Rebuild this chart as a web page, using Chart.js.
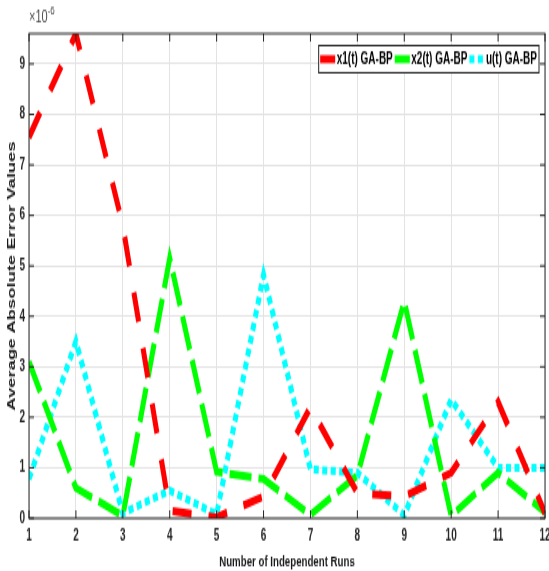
<!DOCTYPE html>
<html>
<head>
<meta charset="utf-8">
<title>Average Absolute Error Values</title>
<script src="https://cdn.jsdelivr.net/npm/chart.js@4.4.1/dist/chart.umd.min.js"></script>
<style>
  html, body { margin: 0; padding: 0; background: #fff; }
  #errChart { display: block; }
</style>
</head>
<body>
<!-- the figure is drawn short and stretched tall, like the exported plot -->
<canvas id="errChart" width="549" height="357" style="width:549px;height:571px"></canvas>
<script>
// independent runs and average absolute errors (values in units of 1e-6)
var runs = [1, 2, 3, 4, 5, 6, 7, 8, 9, 10, 11, 12];
var x1Err = [7.55, 9.6, 5.8, 0.15, 0.02, 0.43, 2.2, 0.5, 0.43, 0.9, 2.3, 0.1];
var x2Err = [3.1, 0.6, 0.05, 5.15, 0.92, 0.78, 0.07, 0.85, 4.3, 0.05, 0.9, 0.12];
var uErr = [0.78, 3.5, 0.1, 0.55, 0.08, 4.82, 0.97, 0.9, 0.06, 2.35, 1.0, 1.0];
var seriesNames = ['x1(t) GA-BP', 'x2(t) GA-BP', 'u(t) GA-BP'];
var yTicks = [0, 1, 2, 3, 4, 5, 6, 7, 8, 9];
var yTop = 9.6;

var FONT = "'Liberation Sans', Arial, sans-serif";
var AXIS = '#262626';

function toPoints(vals) {
    return runs.map(function(r, i) {
        return { x: r, y: vals[i] };
    });
}

// box round the axes, inward ticks, exponent label and the legend
var axesBox = {
    id: 'axesBox',
    afterDatasetsDraw: function(chart) {
        var ctx = chart.ctx;
        var a = chart.chartArea;
        var xs = chart.scales.x;
        var ys = chart.scales.y;

        ctx.save();
        ctx.strokeStyle = AXIS;
        ctx.lineWidth = 1;
        ctx.setLineDash([]);
        ctx.strokeRect(a.left, a.top, a.right - a.left, a.bottom - a.top);

        ctx.beginPath();
        runs.forEach(function(r) {
            var px = xs.getPixelForValue(r);
            ctx.moveTo(px, a.bottom); ctx.lineTo(px, a.bottom - 5);
            ctx.moveTo(px, a.top); ctx.lineTo(px, a.top + 5);
        });
        yTicks.forEach(function(v) {
            var py = ys.getPixelForValue(v);
            ctx.moveTo(a.left, py); ctx.lineTo(a.left + 5, py);
            ctx.moveTo(a.right, py); ctx.lineTo(a.right - 5, py);
        });
        ctx.stroke();

        // x10^-6 above the y axis
        ctx.fillStyle = '#4d4d4d';
        ctx.textAlign = 'left';
        ctx.textBaseline = 'alphabetic';
        ctx.font = '11px ' + FONT;
        ctx.fillText('\u00d710', a.left, a.top - 7);
        var w = ctx.measureText('\u00d710').width;
        ctx.font = '8px ' + FONT;
        ctx.fillText('-6', a.left + w, a.top - 12);
        ctx.restore();
    },
    afterDraw: function(chart) {
        var ctx = chart.ctx;
        var a = chart.chartArea;
        var sets = chart.data.datasets;

        ctx.save();
        ctx.font = 'bold 10px ' + FONT;
        var sample = 15;
        var total = 1.5;
        sets.forEach(function(ds) {
            total += sample + 1.5 + ctx.measureText(ds.label).width + 2;
        });
        var boxH = 17;
        var left = a.right - 6 - total;
        var top = a.top + 7.5;

        ctx.fillStyle = '#fff';
        ctx.fillRect(left, top, total, boxH);
        ctx.strokeStyle = AXIS;
        ctx.lineWidth = 1;
        ctx.strokeRect(left, top, total, boxH);

        var cy = top + boxH / 2;
        var x = left + 1.5;
        sets.forEach(function(ds) {
            ctx.beginPath();
            ctx.strokeStyle = ds.borderColor;
            ctx.lineWidth = ds.borderWidth;
            ctx.lineCap = 'butt';
            ctx.setLineDash(ds.borderDash);
            ctx.moveTo(x, cy);
            ctx.lineTo(x + sample, cy);
            ctx.stroke();
            ctx.setLineDash([]);
            x += sample + 1.5;
            ctx.fillStyle = '#000';
            ctx.textAlign = 'left';
            ctx.textBaseline = 'middle';
            ctx.fillText(ds.label, x, cy + 0.5);
            x += ctx.measureText(ds.label).width + 2;
        });
        ctx.restore();
    }
};

var errChart = new Chart(document.getElementById('errChart'), {
    type: 'line',
    data: {
        datasets: [{
            label: seriesNames[0],
            data: toPoints(x1Err),
            borderColor: '#ff0000',
            backgroundColor: '#ff0000',
            borderWidth: 5,
            borderDash: [19, 17]
        }, {
            label: seriesNames[1],
            data: toPoints(x2Err),
            borderColor: '#00ff00',
            backgroundColor: '#00ff00',
            borderWidth: 5,
            borderDash: [22, 7]
        }, {
            label: seriesNames[2],
            data: toPoints(uErr),
            borderColor: '#00ffff',
            backgroundColor: '#00ffff',
            borderWidth: 5,
            borderDash: [5, 3.5]
        }]
    },
    options: {
        responsive: false,
        animation: false,
        devicePixelRatio: 1,
        layout: { padding: { top: 21, right: 4, left: 0, bottom: 0 } },
        elements: {
            point: { radius: 0, hoverRadius: 0 },
            line: { tension: 0, fill: false, borderCapStyle: 'butt', borderJoinStyle: 'miter' }
        },
        plugins: {
            legend: { display: false },
            tooltip: { enabled: false }
        },
        scales: {
            x: {
                type: 'linear',
                min: 1,
                max: 12,
                afterFit: function(s) {
                    s.height = 33;
                    s.paddingLeft = 0;
                    s.paddingRight = 0;
                },
                ticks: {
                    stepSize: 1,
                    padding: 5,
                    maxRotation: 0,
                    color: AXIS,
                    font: { family: FONT, size: 10, weight: 'bold' }
                },
                grid: { color: '#e3e3e3', drawTicks: false },
                border: { display: false },
                title: {
                    display: true,
                    text: 'Number of Independent Runs',
                    color: '#1a1a1a',
                    font: { family: FONT, size: 9.7, weight: 'bold' },
                    padding: { top: 0, bottom: 0 }
                }
            },
            y: {
                min: 0,
                max: yTop,
                afterFit: function(s) {
                    s.width = 29;
                    s.paddingTop = 0;
                    s.paddingBottom = 0;
                },
                ticks: {
                    stepSize: 1,
                    includeBounds: false,
                    padding: 4,
                    color: AXIS,
                    font: { family: FONT, size: 10, weight: 'bold' }
                },
                grid: { color: '#e3e3e3', drawTicks: false },
                border: { display: false },
                title: {
                    display: true,
                    text: 'Average Absolute Error Values',
                    color: '#1a1a1a',
                    font: { family: FONT, size: 11.5, weight: 'bold' },
                    padding: { top: 5, bottom: 0 }
                }
            }
        }
    },
    plugins: [axesBox]
});
</script>
</body>
</html>
